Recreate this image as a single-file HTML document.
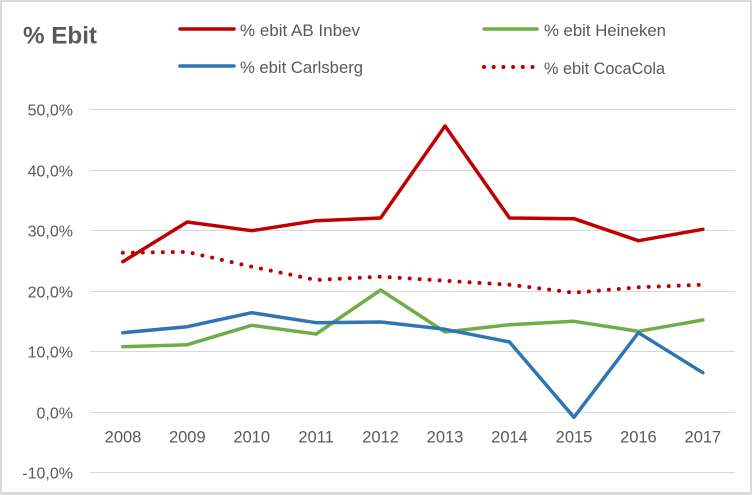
<!DOCTYPE html>
<html><head><meta charset="utf-8"><style>
html,body{margin:0;padding:0;background:#fff;}
svg{display:block;}
text{font-family:"Liberation Sans",Arial,sans-serif;fill:#595959;}
</style></head><body>
<svg width="752" height="495" viewBox="0 0 752 495" xmlns="http://www.w3.org/2000/svg">
<rect x="0" y="0" width="752" height="495" fill="#d9d9d9"/>
<rect x="2" y="2" width="748" height="490" fill="#ffffff"/>
<text x="23" y="43.5" font-size="24.5" font-weight="bold" textLength="74" lengthAdjust="spacingAndGlyphs">% Ebit</text>
<!-- legend -->
<line x1="180" y1="29" x2="234" y2="29" stroke="#C00000" stroke-width="3.5" stroke-linecap="round"/>
<text x="240" y="36" font-size="16.5" textLength="120" lengthAdjust="spacingAndGlyphs">% ebit AB Inbev</text>
<line x1="180" y1="66" x2="234" y2="66" stroke="#2E75B6" stroke-width="3.5" stroke-linecap="round"/>
<text x="240" y="73" font-size="16.5" textLength="123" lengthAdjust="spacingAndGlyphs">% ebit Carlsberg</text>
<line x1="484" y1="29" x2="537" y2="29" stroke="#70AD47" stroke-width="3.5" stroke-linecap="round"/>
<text x="544" y="36" font-size="16.5" textLength="122" lengthAdjust="spacingAndGlyphs">% ebit Heineken</text>
<line x1="484" y1="67" x2="537" y2="67" stroke="#C00000" stroke-width="4" stroke-linecap="round" stroke-dasharray="0 9.7"/>
<text x="544" y="74" font-size="16.5" textLength="121" lengthAdjust="spacingAndGlyphs">% ebit CocaCola</text>
<!-- gridlines -->
<g stroke="#d9d9d9" stroke-width="1">
<line x1="90" y1="109.5" x2="735" y2="109.5"/>
<line x1="90" y1="170.5" x2="735" y2="170.5"/>
<line x1="90" y1="230.5" x2="735" y2="230.5"/>
<line x1="90" y1="291.5" x2="735" y2="291.5"/>
<line x1="90" y1="351.5" x2="735" y2="351.5"/>
<line x1="90" y1="412.5" x2="735" y2="412.5"/>
<line x1="90" y1="472.5" x2="735" y2="472.5"/>
</g>
<!-- y labels -->
<g font-size="16" text-anchor="end">
<text x="73" y="115.5">50,0%</text>
<text x="73" y="176.5">40,0%</text>
<text x="73" y="236.5">30,0%</text>
<text x="73" y="297.5">20,0%</text>
<text x="73" y="357.5">10,0%</text>
<text x="73" y="418.5">0,0%</text>
<text x="73" y="478.5">-10,0%</text>
</g>
<!-- x labels -->
<g font-size="16.5" text-anchor="middle">
<text x="123" y="442.5">2008</text>
<text x="187.3" y="442.5">2009</text>
<text x="251.7" y="442.5">2010</text>
<text x="316.1" y="442.5">2011</text>
<text x="380.6" y="442.5">2012</text>
<text x="445" y="442.5">2013</text>
<text x="509.5" y="442.5">2014</text>
<text x="574" y="442.5">2015</text>
<text x="638.4" y="442.5">2016</text>
<text x="702.9" y="442.5">2017</text>
</g>
<!-- series -->
<g fill="none" stroke-width="3.5" stroke-linejoin="round" stroke-linecap="round">
<polyline stroke="#C00000" points="122.8,261.7 187.25,222 251.7,230.7 316.15,220.7 380.6,218 445.05,126 509.5,218 573.95,218.7 638.4,240.7 702.85,229.3"/>
<polyline stroke="#70AD47" points="122.8,346.7 187.25,344.7 251.7,325.3 316.15,334 380.6,290 445.05,332 509.5,324.7 573.95,321.3 638.4,331.3 702.85,320"/>
<polyline stroke="#2E75B6" points="122.8,332.7 187.25,326.7 251.7,312.7 316.15,322.7 380.6,322 445.05,329.3 509.5,342 573.95,417.3 638.4,332.7 702.85,372.7"/>
<polyline stroke="#C00000" stroke-width="4" stroke-dasharray="0 10" points="122.8,252.7 187.25,252 251.7,266.7 316.15,280 380.6,276.7 445.05,280.7 509.5,284.7 573.95,292.7 638.4,287.3 702.85,284.7"/>
</g>
</svg>
</body></html>
